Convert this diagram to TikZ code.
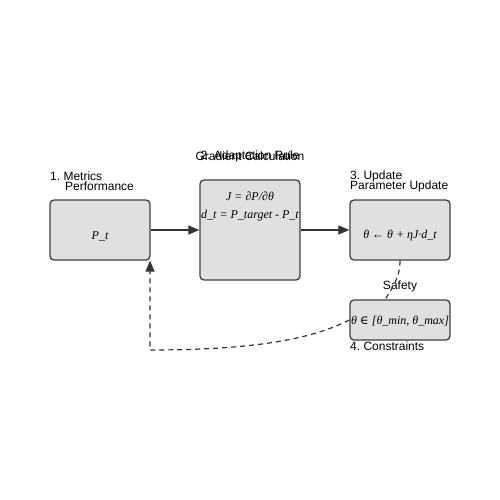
\documentclass[tikz,border=0pt]{standalone}
\usepackage{fontspec}
\setmainfont{Liberation Serif}
\setsansfont{Liberation Sans}
\newfontfamily\symfont{DejaVu Serif}
\usetikzlibrary{arrows.meta}
\frenchspacing
\begin{document}
\begin{tikzpicture}[x=1pt,y=-1pt,
  box/.style={draw=black!75,line width=1.3pt,fill=black!12,rounded corners=4pt,inner sep=0pt},
  lbl/.style={font=\sffamily\fontsize{12}{12}\selectfont\frenchspacing,inner sep=0pt,text=black},
  mth/.style={font=\itshape\fontsize{12}{12}\selectfont,inner sep=0pt},
  tip/.style={-{Triangle[length=11pt,width=9pt]}},
  conn/.style={draw=black!80,line width=1.2pt,tip},
  dconn/.style={draw=black!80,line width=1.2pt,dashed,dash pattern=on 5pt off 4pt}]
\useasboundingbox (0,0) rectangle (500,500);
\fill[white] (0,0) rectangle (500,500);
% boxes
\node[box,minimum width=100pt,minimum height=60pt] (b1) at (100,230) {};
\node[box,minimum width=100pt,minimum height=100pt] (b2) at (250,230) {};
\node[box,minimum width=100pt,minimum height=60pt] (b3) at (400,230) {};
\node[box,minimum width=100pt,minimum height=40pt] (b4) at (400,320) {};
% box texts
\node[mth] (t1) at (100,236) {P\_t};
\node[mth] (t2a) at (250,196) {J = ∂P/∂θ};
\node[mth] (t2b) at (250,216) {d\_t = P\_target - P\_t};
\node[mth] (t3) at (400,236) {θ ← θ + ηJ·d\_t};
\node[mth] (t4) at (400,321) {θ {\symfont\itshape ∈} [θ\_min, θ\_max]};
% labels
\node[lbl,anchor=west] (l1a) at (50,176) {1. Metrics};
\node[lbl,anchor=west] (l1b) at (65,186) {Performance};
\node[lbl] (l2a) at (250,156) {2. Adaptation Rule};
\node[lbl] (l2b) at (250,156) {Gradient Calculation};
\node[lbl,anchor=west] (l3a) at (350,176) {3. Update};
\node[lbl,anchor=west] (l3b) at (350,186) {Parameter Update};
\node[lbl] (ls) at (400,286) {Safety};
\node[lbl,anchor=west] (l4) at (350,346) {4. Constraints};
% connectors
\draw[conn] (b1.east) -- (b2.west);
\draw[conn] (b2.east) -- (b3.west);
\coordinate (c1) at (150,350);
\draw[dconn] (b3.south) .. controls (400,280) and (390,290) .. (385,300);
\draw[dconn,tip] (b4.west) .. controls (310,340) and (250,350) .. (c1) -- (c1 |- b1.south);
\end{tikzpicture}
\end{document}
